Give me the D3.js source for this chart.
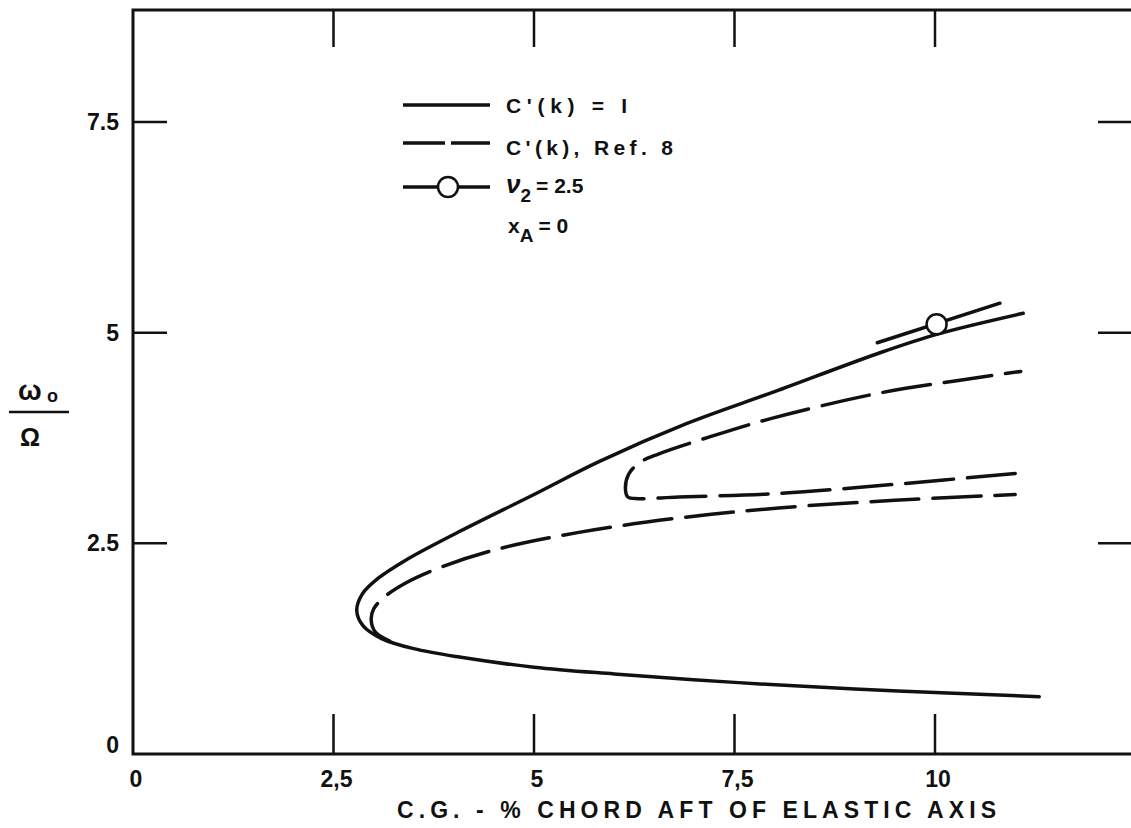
<!DOCTYPE html>
<html>
<head>
<meta charset="utf-8">
<script src="https://cdn.jsdelivr.net/npm/d3@7"></script>
<style>
  body { margin: 0; background: #fff; }
  svg { display: block; }
  text { font-family: "Liberation Sans", Arial, sans-serif; fill: #111; font-weight: bold; }
</style>
</head>
<body>
<svg id="chart" width="1131" height="828"></svg>
<script>
// ticks
var xTicks = [2.5, 5, 7.5, 10];
var yTicks = [2.5, 5, 7.5];
var xTickLabels = ["0", "2,5", "5", "7,5", "10"];
var xTickValues = [0, 2.5, 5, 7.5, 10];
var yTickLabels = ["0", "2.5", "5", "7.5"];
var yTickValues = [0, 2.5, 5, 7.5];

// C'(k) = 1, solid, lower branch -> nose -> upper branch
var solidCurve = [
  [11.3, 0.68], [10, 0.73], [9, 0.77], [7.5, 0.85], [6, 0.95], [5, 1.03],
  [4.07, 1.15], [3.5, 1.25], [3.1, 1.37], [2.87, 1.52], [2.79, 1.70],
  [2.86, 1.90], [3.05, 2.08], [3.4, 2.30], [4.07, 2.64], [5.0, 3.08],
  [5.81, 3.47], [6.9, 3.92], [8.0, 4.30], [9.28, 4.75], [10.02, 4.98], [11.1, 5.23]
];

// C'(k), Ref. 8, dashed outer branch
var dashedOuter = [
  [3.2, 1.34], [3.02, 1.45], [2.97, 1.59], [3.0, 1.72], [3.13, 1.86],
  [3.4, 2.03], [3.82, 2.21], [4.5, 2.42], [5.56, 2.63], [6.8, 2.80],
  [8.05, 2.92], [9.5, 3.01], [11.0, 3.08]
];

// C'(k), Ref. 8, dashed inner loop
var dashedInner = [
  [11.0, 3.33], [9.5, 3.2], [8.0, 3.09], [6.8, 3.05], [6.3, 3.03],
  [6.17, 3.05], [6.14, 3.15], [6.18, 3.32], [6.32, 3.46], [6.55, 3.56],
  [7.18, 3.76], [7.95, 3.98], [9.29, 4.28], [10.27, 4.43], [11.07, 4.54]
];

// nu2 = 2.5 short line with circle
var nuLine = [[9.28, 4.88], [10.81, 5.35]];
var nuPoint = [[10.02, 5.10]];

var svg = d3.select("#chart");

var x = d3.scaleLinear().domain([0, 10]).range([133, 935]);
var y = d3.scaleLinear().domain([0, 7.5]).range([754, 122]);

var fLeft = x(0), fRight = 1134, fTop = 10, fBottom = y(0);

// frame
svg.append("path")
  .attr("d", "M" + fRight + "," + fTop + "H" + fLeft + "V" + fBottom + "H" + fRight)
  .attr("fill", "none").attr("stroke", "#111").attr("stroke-width", 3);

// inward ticks
var ticks = svg.append("g").attr("stroke", "#111").attr("stroke-width", 2.5);
xTicks.forEach(function(t) {
  ticks.append("line").attr("x1", x(t)).attr("x2", x(t)).attr("y1", fTop).attr("y2", fTop + 37);
  ticks.append("line").attr("x1", x(t)).attr("x2", x(t)).attr("y1", fBottom).attr("y2", fBottom - 40);
});
yTicks.forEach(function(t) {
  ticks.append("line").attr("x1", fLeft).attr("x2", fLeft + 34).attr("y1", y(t)).attr("y2", y(t));
  ticks.append("line").attr("x1", fRight).attr("x2", fRight - 36).attr("y1", y(t)).attr("y2", y(t));
});

// tick labels
svg.append("g").selectAll("text")
  .data(xTickValues)
  .enter().append("text")
  .attr("x", function(d) { return x(d) + 3; })
  .attr("y", 787)
  .attr("text-anchor", "middle")
  .style("font-size", "23px")
  .text(function(d, i) { return xTickLabels[i]; });

svg.append("g").selectAll("text")
  .data(yTickValues)
  .enter().append("text")
  .attr("x", 119)
  .attr("y", function(d) { return y(d) + (d === 0 ? -1 : 8); })
  .attr("text-anchor", "end")
  .style("font-size", "23px")
  .text(function(d, i) { return yTickLabels[i]; });

// axis titles
svg.append("text")
  .attr("x", 397).attr("y", 818)
  .attr("textLength", 599).attr("lengthAdjust", "spacing")
  .style("font-size", "23px")
  .text("C.G. - % CHORD AFT OF ELASTIC AXIS");

var yl = svg.append("g");
yl.append("text").attr("x", 18).attr("y", 400).style("font-size", "28px").text("\u03c9");
yl.append("text").attr("x", 47).attr("y", 402).style("font-size", "18px").text("o");
yl.append("line").attr("x1", 9).attr("x2", 69).attr("y1", 412).attr("y2", 412)
  .attr("stroke", "#111").attr("stroke-width", 2.5);
yl.append("text").attr("x", 20).attr("y", 446).style("font-size", "25px").text("\u03a9");

// curves
var line = d3.line()
  .curve(d3.curveCatmullRom.alpha(0.5))
  .x(function(d) { return x(d[0]); })
  .y(function(d) { return y(d[1]); });

var curves = svg.append("g").attr("fill", "none").attr("stroke", "#111")
  .attr("stroke-width", 3.5).attr("stroke-linecap", "round");

curves.append("path").attr("d", line(solidCurve));
curves.append("path").attr("d", line(dashedOuter)).attr("stroke-dasharray", "48,14");
curves.append("path").attr("d", line(dashedInner)).attr("stroke-dasharray", "48,14");
curves.append("path").attr("d", d3.line().x(function(d) { return x(d[0]); }).y(function(d) { return y(d[1]); })(nuLine));

svg.selectAll(".nu")
  .data(nuPoint)
  .enter().append("circle")
  .attr("class", "nu")
  .attr("cx", function(d) { return x(d[0]); })
  .attr("cy", function(d) { return y(d[1]); })
  .attr("r", 10)
  .attr("fill", "#fff").attr("stroke", "#111").attr("stroke-width", 2.5);

// legend
var lg = svg.append("g");
var ls = lg.append("g").attr("stroke", "#111").attr("stroke-width", 3.5).attr("fill", "none");
ls.append("line").attr("x1", 403).attr("x2", 490).attr("y1", 105).attr("y2", 105);
ls.append("line").attr("x1", 403).attr("x2", 490).attr("y1", 143).attr("y2", 143).attr("stroke-dasharray", "42,6");
ls.append("line").attr("x1", 403).attr("x2", 490).attr("y1", 187).attr("y2", 187);
lg.append("circle").attr("cx", 448).attr("cy", 187).attr("r", 10)
  .attr("fill", "#fff").attr("stroke", "#111").attr("stroke-width", 2.5);

function legText(xp, yp, s, len) {
  var t = lg.append("text").attr("x", xp).attr("y", yp).style("font-size", "21px").text(s);
  if (len) t.attr("textLength", len).attr("lengthAdjust", "spacing");
  return t;
}
legText(506, 113, "C'(k) = I", 121);
legText(506, 155, "C'(k), Ref. 8", 167);
var t3 = lg.append("text").attr("x", 506).attr("y", 193).style("font-size", "21px");
t3.append("tspan").style("font-style", "italic").style("font-size", "26px").text("\u03bd");
t3.append("tspan").attr("dy", 9).style("font-size", "19px").text("2");
t3.append("tspan").attr("dy", -9).attr("dx", 5).text("= 2.5");
var t4 = lg.append("text").attr("x", 508).attr("y", 233).style("font-size", "21px");
t4.append("tspan").text("x");
t4.append("tspan").attr("dy", 9).style("font-size", "19px").text("A");
t4.append("tspan").attr("dy", -9).attr("dx", 5).text("= 0");
</script>
</body>
</html>
